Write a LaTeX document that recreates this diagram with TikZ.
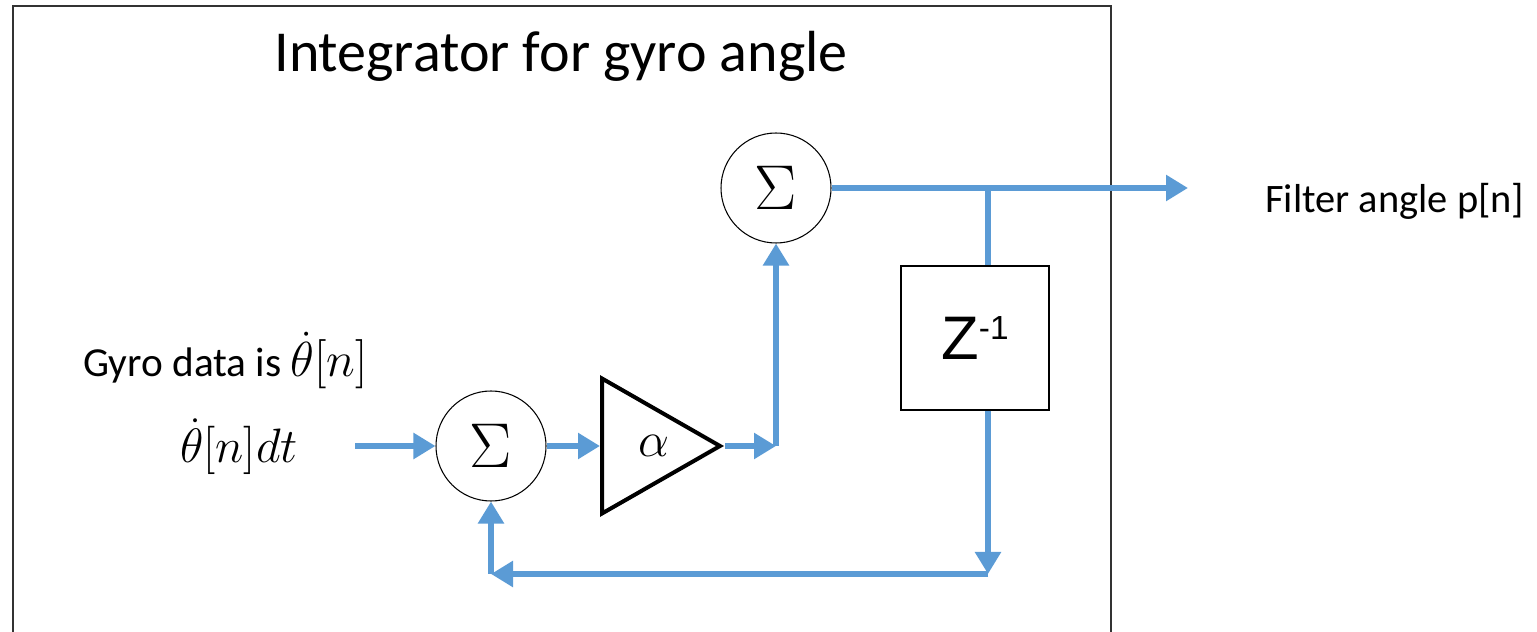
\RequirePackage{fix-cm}
\documentclass[tikz,border=0pt]{standalone}
\usepackage{amsmath, amssymb}
\usepackage{fontspec}
\setmainfont{Carlito}
\newfontfamily\arialfont{Liberation Sans}
\usepackage{tikz}
\usetikzlibrary{arrows.meta,calc,positioning,shapes.geometric}
\definecolor{flowblue}{RGB}{91,155,213}

\begin{document}
\begin{tikzpicture}[x=0.2mm, y=-0.2mm,
    flow/.style={draw=flowblue, line width=1.2mm, -{Triangle[length=4.4mm, width=5mm]}},
    wire/.style={draw=flowblue, line width=1.2mm},
    label/.style={inner sep=0pt},
    sumnode/.style={draw, circle, line width=0.6pt, minimum size=22mm, inner sep=0pt,
        font=\fontsize{36}{36}\selectfont},
    gainnode/.style={draw, isosceles triangle, isosceles triangle stretches, line width=0.8mm,
        minimum width=27mm, minimum height=23.6mm, inner sep=0pt,
        font=\fontsize{28}{28}\selectfont},
    delaynode/.style={draw, rectangle, line width=0.6pt, minimum width=29.6mm, minimum height=28.8mm,
        font=\arialfont\fontsize{35}{35}\selectfont}]
    \useasboundingbox (0,0) rectangle (1537,632);
    \draw[line width=0.8pt, black!80] (13,6) rectangle (1111,650);

    \node[label, anchor=base, font=\fontsize{33}{33}\selectfont] (title) at (561,72) {Integrator for gyro angle};
    \node[label, anchor=base west, font=\fontsize{23.5}{23.5}\selectfont] (gyro) at (83,377)
        {Gyro data is {\fontsize{28}{28}\selectfont$\dot{\theta}[n]$}};
    \node[label, anchor=base, font=\fontsize{27.5}{27.5}\selectfont] (input) at (239,463) {$\dot{\theta}[n]dt$};
    \node[label, anchor=base west, font=\fontsize{23}{23}\selectfont] (filter) at (1265,213) {Filter angle p[n]};

    \node[sumnode] (sumA) at (491,446) {$\Sigma$};
    \node[gainnode, anchor=west] (gain) at (600,446) {\hspace*{4mm}$\alpha$};
    \node[sumnode] (sumB) at (776,188) {$\Sigma$};
    \node[delaynode] (delay) at (975,338) {Z\raisebox{11pt}{\fontsize{19}{19}\selectfont -1}};

    \coordinate (In) at (355,446);
    \coordinate (Out) at (1188,188);
    \coordinate (Turn) at (sumB.south |- gain.east);
    \coordinate (Tap) at (988,188);
    \coordinate (DownR) at (988,574);
    \coordinate (DownL) at (sumA.south |- DownR);

    \draw[flow] (In) -- (sumA.west);
    \draw[flow] (sumA.east) -- (gain.west);
    \draw[flow] (gain.east) -- (Turn);
    \draw[flow] (Turn) -- (sumB.south);
    \draw[flow] (sumB.east) -- (Out);
    \draw[wire] (Tap) -- (Tap |- delay.north);
    \draw[flow] (Tap |- delay.south) -- (DownR);
    \draw[flow] (DownR) -- (DownL);
    \draw[flow] (DownL) -- (sumA.south);
\end{tikzpicture}
\end{document}
